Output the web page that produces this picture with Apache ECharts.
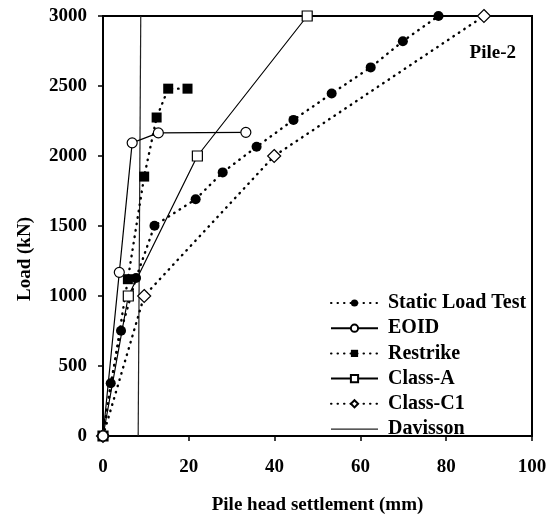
<!DOCTYPE html>
<html>
<head>
<meta charset="utf-8">
<script src="https://cdn.jsdelivr.net/npm/echarts@6/dist/echarts.min.js"></script>
<style>
  html, body { margin: 0; padding: 0; background: #fff; }
  #chart-container { width: 555px; height: 520px; }
</style>
</head>
<body>
<div id="chart-container"></div>
<script>
// settlement (mm), load (kN)
const staticLoadTest = [[0, 0], [1.8, 377], [4.2, 752], [7.7, 1128], [12, 1502], [21.6, 1691], [27.9, 1883], [35.8, 2066], [44.4, 2258], [53.3, 2446], [62.4, 2633], [69.9, 2820], [78.2, 3000]];
const eoid = [[0, 0], [3.8, 1169], [6.8, 2094], [12.9, 2165], [33.3, 2169]];
const restrike = [[0, 0], [5.8, 1120], [9.6, 1853], [12.5, 2275], [15.2, 2481], [19.7, 2481]];
const classA = [[0, 0], [5.9, 1000], [22, 2000], [47.6, 3000]];
const classC1 = [[0, 0], [9.6, 1000], [39.9, 2000], [88.8, 3000]];
const davisson = [[8.2, 0], [8.8, 3000]];
const legendNames = ["Static Load Test", "EOID", "Restrike", "Class-A", "Class-C1", "Davisson"];

const FONT = "'Liberation Serif', 'Times New Roman', serif";

const chart = echarts.init(document.getElementById("chart-container"));

const dotted = { color: "#000", width: 2.4, type: [0.5, 6], cap: "round" };
const solid = { color: "#000", width: 1.2 };
// plain line icon for Davisson (extra zero-length moves keep the box 47x9)
const lineIcon = "path://M0,0L0,0M0,4L47,4L47,5.2L0,5.2ZM47,9L47,9";

const options = {
    animation: false,
    backgroundColor: "#fff",
    grid: {
        left: 103,
        right: 23,
        top: 16,
        bottom: 77,
        show: true,
        borderColor: "#000",
        borderWidth: 2,
        containLabel: false
    },
    legend: {
        orient: "vertical",
        left: 330,
        top: 293,
        padding: 0,
        itemWidth: 47,
        itemHeight: 9,
        itemGap: 5.2,
        textStyle: { fontFamily: FONT, fontWeight: "bold", fontSize: 20, color: "#000", padding: [0, 0, 0, 5] },
        data: legendNames.map(n => n === "Davisson" ? { name: n, icon: lineIcon } : n)
    },
    title: {
        text: "Pile-2",
        right: 39,
        top: 44,
        padding: 0,
        textStyle: { fontFamily: FONT, fontWeight: "bold", fontSize: 19, color: "#000" }
    },
    xAxis: {
        type: "value",
        min: 0,
        max: 100,
        interval: 20,
        name: "Pile head settlement (mm)",
        nameLocation: "middle",
        nameGap: 60,
        nameTextStyle: { fontFamily: FONT, fontWeight: "bold", fontSize: 19, color: "#000" },
        axisLine: { show: true, lineStyle: { color: "#000", width: 2 } },
        axisTick: { show: true, length: 5, lineStyle: { color: "#000", width: 1.5 } },
        axisLabel: { margin: 22, fontFamily: FONT, fontWeight: "bold", fontSize: 19, color: "#000" },
        splitLine: { show: false }
    },
    yAxis: {
        type: "value",
        min: 0,
        max: 3000,
        interval: 500,
        name: "Load (kN)",
        nameLocation: "middle",
        nameGap: 68,
        nameTextStyle: { fontFamily: FONT, fontWeight: "bold", fontSize: 19, color: "#000", padding: [0, 66, 0, 0] },
        axisLine: { show: true, lineStyle: { color: "#000", width: 2 } },
        axisTick: { show: true, length: 5, lineStyle: { color: "#000", width: 1.5 } },
        axisLabel: { margin: 16, fontFamily: FONT, fontWeight: "bold", fontSize: 19, color: "#000", formatter: v => String(v) },
        splitLine: { show: false }
    },
    series: [
        {
            name: "Davisson",
            type: "line",
            data: davisson,
            symbol: "none",
            lineStyle: { color: "#222", width: 1.2 },
            itemStyle: { color: "#222" }
        },
        {
            name: "Class-C1",
            type: "line",
            data: classC1,
            symbol: "diamond",
            symbolSize: 13,
            lineStyle: dotted,
            itemStyle: { color: "#fff", borderColor: "#000", borderWidth: 1.2 }
        },
        {
            name: "Class-A",
            type: "line",
            data: classA,
            symbol: "rect",
            symbolSize: 10,
            lineStyle: solid,
            itemStyle: { color: "#fff", borderColor: "#000", borderWidth: 1.2 }
        },
        {
            name: "Static Load Test",
            type: "line",
            data: staticLoadTest,
            symbol: "circle",
            symbolSize: 10,
            lineStyle: dotted,
            itemStyle: { color: "#000", borderColor: "#000", borderWidth: 0 }
        },
        {
            name: "Restrike",
            type: "line",
            data: restrike,
            symbol: "rect",
            symbolSize: 10,
            lineStyle: dotted,
            itemStyle: { color: "#000", borderColor: "#000", borderWidth: 0 }
        },
        {
            name: "EOID",
            type: "line",
            data: eoid,
            symbol: "circle",
            symbolSize: 10,
            lineStyle: solid,
            itemStyle: { color: "#fff", borderColor: "#000", borderWidth: 1.2 }
        }
    ]
};

chart.setOption(options);
</script>
</body>
</html>
